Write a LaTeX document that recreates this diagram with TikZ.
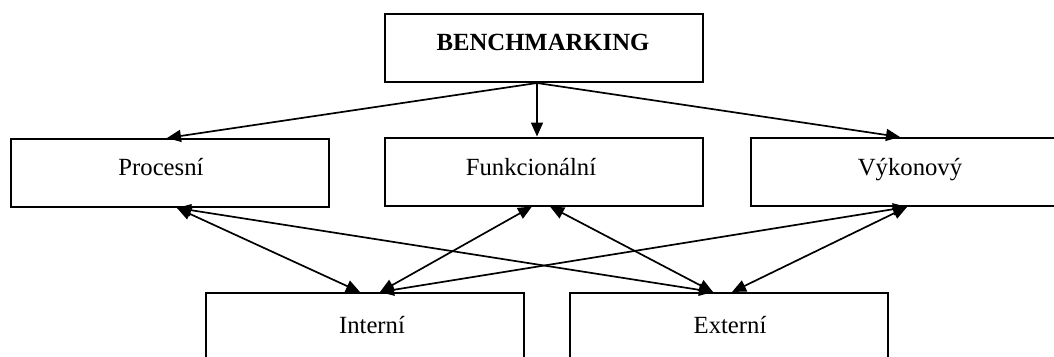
\documentclass[tikz,border=0pt]{standalone}
\usepackage{fontspec}
\setmainfont{Liberation Serif}
\usetikzlibrary{arrows.meta}
\begin{document}
\begin{tikzpicture}[x=1pt,y=-1pt,
  box/.style={draw=black,line width=2pt,rectangle,minimum width=318pt,minimum height=68pt,inner sep=0pt},
  txt/.style={font=\fontsize{24.7}{30}\selectfont,inner sep=0pt,anchor=base},
  tip/.style={Triangle[length=14pt,width=12pt]},
  conn/.style={line width=1.7pt,-{Triangle[length=14pt,width=12pt]}},
  bconn/.style={line width=1.7pt,{Triangle[length=14pt,width=12pt]}-{Triangle[length=14pt,width=12pt]}}]
\useasboundingbox (0,0) rectangle (1054,356);
\clip (0,0) rectangle (1054,356);
\fill[white] (0,0) rectangle (1054,356);
% boxes
\node[box] (bench) at (544,48) {};
\node[box] (proc) at (170,173) {};
\node[box] (funk) at (544,171.5) {};
\node[box] (vyk) at (910,172) {};
\node[box] (int) at (365,327) {};
\node[box] (ext) at (729,327) {};
% texts
\node[txt,font=\fontsize{24.7}{30}\selectfont\bfseries] (tbench) at (543,50) {BENCHMARKING};
\node[txt] (tproc) at (161,175) {Procesní};
\node[txt] (tfunk) at (531,175) {Funkcionální};
\node[txt] (tvyk) at (910,175) {Výkonový};
\node[txt] (tint) at (372,333) {Interní};
\node[txt] (text) at (730,333) {Externí};
% arrows from top
\draw[conn] ([xshift=-7pt]bench.south) -- ([xshift=-3pt]proc.north);
\draw[conn] ([xshift=-7pt]bench.south) -- ([xshift=-7pt]funk.north);
\draw[conn] ([xshift=-7pt]bench.south) -- ([xshift=-10pt]vyk.north);
% double arrows
\draw[bconn] ([xshift=7pt]proc.south) -- ([xshift=-5pt]int.north);
\draw[bconn] ([xshift=7pt]proc.south) -- ([xshift=-16pt]ext.north);
\draw[bconn] ([xshift=-12pt]funk.south) -- ([xshift=15pt]int.north);
\draw[bconn] ([xshift=6pt]funk.south) -- ([xshift=-16pt]ext.north);
\draw[bconn] ([xshift=-3pt]vyk.south) -- ([xshift=15pt]int.north);
\draw[bconn] ([xshift=-3pt]vyk.south) -- ([xshift=3pt]ext.north);
\end{tikzpicture}
\end{document}
